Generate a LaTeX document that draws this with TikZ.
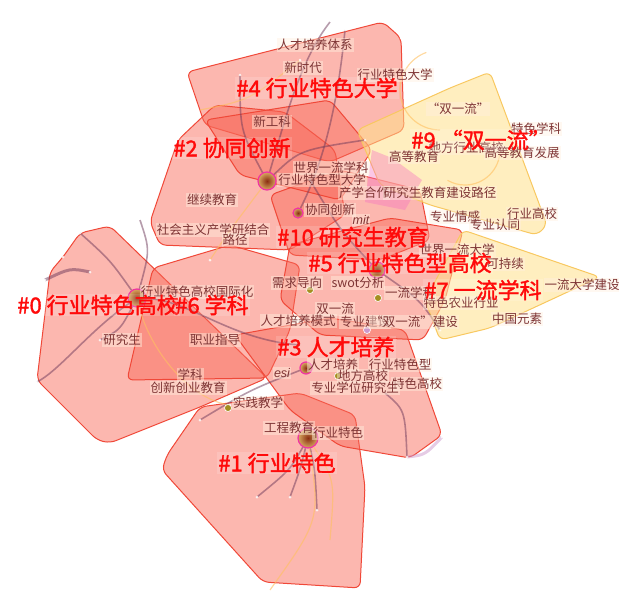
\documentclass[tikz,border=0pt]{standalone}
\usepackage{fontspec}
\setmainfont{Noto Sans CJK SC}
\newfontfamily\cjkbold[FakeBold=1.6]{Noto Sans CJK SC}
\newfontfamily\latinit{Liberation Sans}
\usetikzlibrary{positioning}
\definecolor{zonered}{HTML}{F86858}
\definecolor{zoneedge}{HTML}{F04838}
\definecolor{zoneyel}{HTML}{FFE08A}
\definecolor{yeledge}{HTML}{F8C860}
\definecolor{kwtext}{HTML}{7E3434}
\definecolor{clred}{HTML}{FF0A0A}
\definecolor{linkdark}{HTML}{6E3A5A}
\definecolor{linklite}{HTML}{FFC060}
\definecolor{hubin}{HTML}{8A2E12}
\definecolor{hubout}{HTML}{D8A860}

\begin{document}
\begin{tikzpicture}[x=1pt,y=-1pt,
zone/.style={
  draw=zoneedge,
  line width=1pt,
  fill=zonered,
  fill opacity=0.48,
  rounded corners=6pt
},
yzone/.style={
  draw=yeledge,
  line width=1pt,
  fill=zoneyel,
  fill opacity=0.55,
  rounded corners=6pt
},
pzone/.style={draw=none,fill=magenta!55,fill opacity=0.4},
link/.style={draw=linkdark,draw opacity=0.5,line width=1.6pt},
flow/.style={draw=linklite,draw opacity=0.6,line width=1.2pt},
hub/.style={
  circle,
  draw=magenta!80,
  line width=1.2pt,
  inner sep=0pt,
  shading=radial,
  inner color=hubin,
  outer color=hubout
},
mini/.style={circle,fill=olive!60!brown,draw=white,line width=0.6pt,inner sep=0pt,minimum size=7pt},
dot/.style={circle,fill=white,fill opacity=0.8,inner sep=0pt,minimum size=3pt},
kw/.style={
  text=kwtext,
  fill=orange!12,
  fill opacity=0.45,
  text opacity=1,
  inner sep=1pt,
  font=\fontsize{12.5}{12.5}\selectfont
},
clus/.style={
  text=clred,
  fill=white,
  fill opacity=0.15,
  text opacity=1,
  inner sep=1pt,
  font=\cjkbold\fontsize{22}{22}\selectfont
}
]
\useasboundingbox (0,0) rectangle (619,595);

\draw[zone] (187,72) -- (383,22) -- (401,38) -- (404,130) -- (330,162) -- (205,125) -- cycle;
\draw[zone] (178,140) -- (215,105) -- (285,112) -- (335,150) -- (345,215) -- (290,250) -- (160,245) -- (150,222) -- cycle;
\draw[zone] (37,380) -- (50,272) -- (63,257) -- (80,233) -- (110,226) -- (205,318) -- (267,378) -- (200,407) -- (110,443) -- (97,440) -- cycle;
\draw[zone] (127,380) -- (153,268) -- (230,245) -- (300,265) -- (290,330) -- (267,378) -- cycle;
\draw[zone] (162,470) -- (167,455) -- (200,407) -- (300,393) -- (355,415) -- (365,487) -- (360,588) -- (263,582) -- cycle;
\draw[zone] (235,335) -- (330,318) -- (405,330) -- (442,435) -- (410,458) -- (340,446) -- (290,410) -- cycle;
\draw[zone] (270,195) -- (340,170) -- (420,190) -- (430,240) -- (380,260) -- (290,255) -- cycle;
\draw[zone] (290,245) -- (390,218) -- (463,230) -- (445,300) -- (423,340) -- (320,335) -- (280,300) -- cycle;
\draw[zone] (205,120) -- (330,100) -- (372,150) -- (340,200) -- (240,175) -- cycle;
\draw[yzone] (357,130) -- (450,88) -- (490,72) -- (547,225) -- (537,235) -- (430,205) -- (380,185) -- cycle;
\draw[yzone] (463,230) -- (600,277) -- (490,328) -- (440,340) -- (425,300) -- cycle;
\fill[pzone] (372,150) -- (392,158) -- (422,180) -- (405,210) -- (365,202) -- cycle;

\node[hub,minimum size=18pt] (n0) at (137,298) {};
\node[hub,minimum size=18pt] (n2) at (267,181) {};
\node[hub,minimum size=10pt] (n10) at (298,213) {};
\node[hub,minimum size=16pt] (n5) at (377,270) {};
\node[hub,minimum size=12pt] (n3) at (306,368) {};
\node[hub,minimum size=20pt] (n1) at (308,438) {};

\draw[link,line width=3pt] (45,280) .. controls (70,268) .. (90,272);
\draw[link] (n0) .. controls (90,330) and (60,370) .. (37,382);
\draw[link] (n0) .. controls (110,260) .. (80,233);
\draw[link] (n0) .. controls (150,250) .. (140,220);
\draw[link] (n0) .. controls (190,300) and (230,340) .. (300,345);
\draw[link] (n0) .. controls (120,330) .. (100,340);
\draw[link] (n2) .. controls (240,130) .. (240,75);
\draw[link] (n2) .. controls (285,120) and (300,60) .. (330,22);
\draw[link] (n2) .. controls (300,150) .. (365,140);
\draw[link] (n10) .. controls (330,150) and (340,80) .. (345,30);
\draw[link] (n5) .. controls (340,230) .. (310,180);
\draw[link] (n5) .. controls (420,300) .. (440,330);
\draw[link] (n1) .. controls (290,470) .. (257,497);
\draw[link] (n1) .. controls (300,470) .. (290,497);
\draw[link] (n1) .. controls (315,470) .. (317,510);
\draw[link] (n3) .. controls (250,390) .. (200,420);
\draw[link] (385,393) .. controls (405,410) .. (407,457);
\draw[link,draw=violet!40,line width=3pt] (407,457) .. controls (425,455) .. (442,437);
\draw[flow] (n1) .. controls (320,520) .. (270,590);
\draw[flow] (n1) .. controls (335,480) .. (330,540);
\draw[flow] (n0) .. controls (150,350) and (190,400) .. (230,405);
\draw[flow] (n2) .. controls (230,230) .. (210,260);
\draw[flow] (200,110) .. controls (250,100) .. (300,60);
\draw[flow] (440,130) arc (90:250:40);
\draw[flow] (500,150) arc (0:120:35);

\foreach \p in {(80,233),(45,280),(63,257),(37,382),(100,340),(150,257),(90,272),(240,75),
  (300,30),(345,30),(307,45),(401,38),(257,497),(290,497),(317,510),(200,420),(365,140),
  (310,180),(440,330),(230,405),(210,260),(300,60),(442,437),(407,457),(547,225),(600,277)}
  \node[dot] at \p {};
\node[mini] (m1) at (310,290) {};
\node[mini] (m2) at (378,298) {};
\node[mini,fill=violet!40] (m3) at (367,330) {};
\node[mini] (m4) at (338,376) {};
\node[mini] (m5) at (228,408) {};

\node[kw] (k1) at (315,45) {人才培养体系};
\node[kw] (k2) at (303,68) {新时代};
\node[kw] (k3) at (395,75) {行业特色大学};
\node[kw] (k4) at (272,122) {新工科};
\node[kw] (k5) at (458,109) {“双一流”};
\node[kw] (k6) at (536,129) {特色学科};
\node[kw] (k7) at (466,148) {地方行业高校};
\node[kw] (k8) at (522,153) {高等教育发展};
\node[kw] (k9) at (414,157) {高等教育};
\node[kw] (k10) at (331,168) {世界一流学科};
\node[kw] (k11) at (322,180) {行业特色型大学};
\node[kw] (k12) at (364,193) {产学合作};
\node[kw] (k13) at (440,193) {研究生教育建设路径};
\node[kw] (k14) at (212,200) {继续教育};
\node[kw] (k15) at (330,210) {协同创新};
\node[kw] (k16) at (361,220) {\latinit\itshape mit};
\node[kw] (k17) at (213,230) {社会主义产学研结合};
\node[kw] (k18) at (235,240) {路径};
\node[kw] (k19) at (455,217) {专业情感};
\node[kw] (k20) at (495,225) {专业认同};
\node[kw] (k21) at (532,214) {行业高校};
\node[kw] (k22) at (457,250) {世界一流大学};
\node[kw] (k23) at (505,264) {可持续};
\node[kw] (k24) at (297,283) {需求导向};
\node[kw] (k25) at (358,283) {swot分析};
\node[kw] (k26) at (410,293) {一流学科};
\node[kw] (k27) at (582,285) {一流大学建设};
\node[kw] (k28) at (461,303) {特色农业行业};
\node[kw] (k29) at (517,319) {中国元素};
\node[kw] (k30) at (335,309) {双一流};
\node[kw] (k31) at (298,321) {人才培养模式};
\node[kw] (k32) at (365,322) {专业建设};
\node[kw] (k33) at (414,322) {“双一流”建设};
\node[kw] (k34) at (333,365) {人才培养};
\node[kw] (k35) at (400,365) {行业特色型};
\node[kw] (k36) at (282,373) {\latinit\itshape esi};
\node[kw] (k37) at (363,376) {地方高校};
\node[kw] (k38) at (417,384) {特色高校};
\node[kw] (k39) at (355,388) {专业学位研究生};
\node[kw] (k40) at (197,292) {行业特色高校国际化};
\node[kw] (k41) at (122,340) {研究生};
\node[kw] (k42) at (215,340) {职业指导};
\node[kw] (k43) at (190,375) {学科};
\node[kw] (k44) at (188,388) {创新创业教育};
\node[kw] (k45) at (258,403) {实践教学};
\node[kw] (k46) at (289,428) {工程教育};
\node[kw] (k47) at (338,433) {行业特色};

\node[clus] (c4) at (317,88) {\#4 行业特色大学};
\node[clus] (c2) at (232,148) {\#2 协同创新};
\node[clus] (c9) at (481,140) {\#9 “双一流”};
\node[clus] (c10) at (353,237) {\#10 研究生教育};
\node[clus] (c5) at (400,263) {\#5 行业特色型高校};
\node[clus] (c7) at (483,290) {\#7 一流学科};
\node[clus] (c0) at (98,305) {\#0 行业特色高校};
\node[clus] (c6) at (212,305) {\#6 学科};
\node[clus] (c3) at (336,347) {\#3 人才培养};
\node[clus] (c1) at (277,463) {\#1 行业特色};
\end{tikzpicture}
\end{document}
